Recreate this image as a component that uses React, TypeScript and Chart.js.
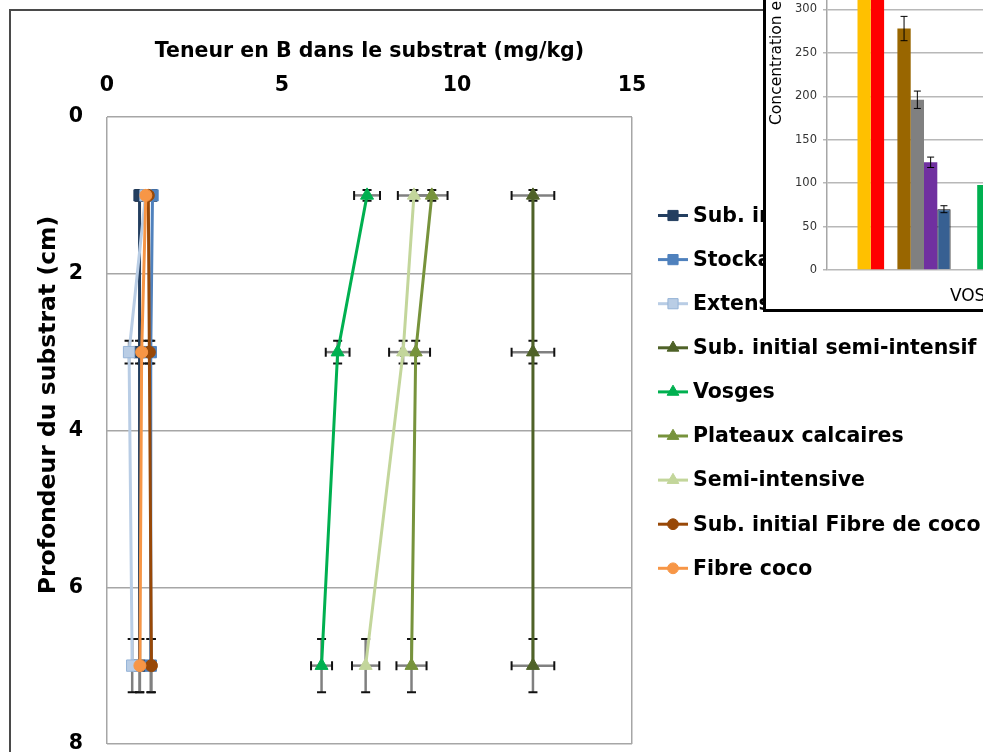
import React, { useEffect, useRef } from "react";
import { Chart, registerables } from "chart.js";
Chart.register(...registerables);

// ---------------- Main chart data ----------------
const depthCm = [1, 3, 7];
const xAxisTitle = "Teneur en B dans le substrat (mg/kg)";
const yAxisTitle = "Profondeur du substrat (cm)";
const seriesLabels = [
  "Sub. initial tourbe",
  "Stockage",
  "Extensive",
  "Sub. initial semi-intensif",
  "Vosges",
  "Plateaux calcaires",
  "Semi-intensive",
  "Sub. initial Fibre de coco",
  "Fibre coco",
];
const subInitialTourbe = [0.93, 0.93, 0.93];
const stockage = [1.3, 1.25, 1.25];
const extensive = [1.1, 0.63, 0.72];
const subInitialSemiIntensif = [12.17, 12.17, 12.17];
const vosges = [7.43, 6.59, 6.13];
const plateauxCalcaires = [9.28, 8.82, 8.7];
const semiIntensive = [8.77, 8.46, 7.39];
const subInitialFibreCoco = [1.18, 1.21, 1.27];
const fibreCoco = [1.11, 0.99, 0.94];

// horizontal error (mg/kg)
const xErrSubInitialTourbe = [0, 0, 0];
const xErrStockage = [0, 0, 0];
const xErrExtensive = [0, 0, 0];
const xErrSubInitialSemiIntensif = [0.61, 0.61, 0.61];
const xErrVosges = [0.37, 0.34, 0.3];
const xErrPlateauxCalcaires = [0.45, 0.41, 0.43];
const xErrSemiIntensive = [0.46, 0.4, 0.39];
const xErrSubInitialFibreCoco = [0, 0, 0];
const xErrFibreCoco = [0, 0, 0];
// vertical error (cm)
const yErrDepth = [0.07, 0.145, 0.34];

// ---------------- Inset chart data ----------------
const insetCategories = ["VOSGES"];
const insetYTitle = "Concentration en B (mg/kg)";
const concYellow = [335];
const concRed = [335];
const concBrown = [278];
const concGray = [196];
const concPurple = [124];
const concBlue = [70];
const concGreen = [98];
const errBrown = [14];
const errGray = [10];
const errPurple = [6];
const errBlue = [4];

const mainValues = [
  subInitialTourbe, stockage, extensive, subInitialSemiIntensif, vosges,
  plateauxCalcaires, semiIntensive, subInitialFibreCoco, fibreCoco,
];
const mainXErr = [
  xErrSubInitialTourbe, xErrStockage, xErrExtensive, xErrSubInitialSemiIntensif, xErrVosges,
  xErrPlateauxCalcaires, xErrSemiIntensive, xErrSubInitialFibreCoco, xErrFibreCoco,
];
const mainStyles = [
  { line: "#243F60", fill: "#243F60", border: "#243F60", point: "rect", r: 8 },
  { line: "#4F81BD", fill: "#4F81BD", border: "#4F81BD", point: "rect", r: 8 },
  { line: "#B9CDE5", fill: "#B9CDE5", border: "#95B3D7", point: "rect", r: 8 },
  { line: "#4F6228", fill: "#4F6228", border: "#4F6228", point: "triangle", r: 7.5 },
  { line: "#00B050", fill: "#00B050", border: "#00B050", point: "triangle", r: 7.5 },
  { line: "#77933C", fill: "#77933C", border: "#77933C", point: "triangle", r: 7.5 },
  { line: "#C3D69B", fill: "#C3D69B", border: "#C3D69B", point: "triangle", r: 7.5 },
  { line: "#984807", fill: "#984807", border: "#984807", point: "circle", r: 6 },
  { line: "#F79646", fill: "#F79646", border: "#F79646", point: "circle", r: 6 },
];

const FONT = '"DejaVu Sans", Verdana, sans-serif';
const INSET_FONT = '"DejaVu Sans", Verdana, sans-serif';

function drawMarker(ctx: CanvasRenderingContext2D, st: any, x: number, y: number) {
  ctx.save();
  ctx.fillStyle = st.fill;
  ctx.strokeStyle = st.border;
  ctx.lineWidth = 1;
  ctx.beginPath();
  if (st.point === "rect") {
    const s = Math.SQRT1_2 * st.r;
    ctx.rect(x - s, y - s, 2 * s, 2 * s);
  } else if (st.point === "triangle") {
    for (let k = 0; k < 3; k++) {
      const a = (k * 2 * Math.PI) / 3;
      const px = x + Math.sin(a) * st.r;
      const py = y - Math.cos(a) * st.r;
      if (k === 0) ctx.moveTo(px, py);
      else ctx.lineTo(px, py);
    }
    ctx.closePath();
  } else {
    ctx.arc(x, y, st.r, 0, Math.PI * 2);
  }
  ctx.fill();
  ctx.stroke();
  ctx.restore();
}

const framePlugin = {
  id: "frame",
  beforeDraw(chart: any) {
    const ctx = chart.ctx;
    ctx.save();
    ctx.fillStyle = "#fff";
    ctx.fillRect(0, 0, chart.width, chart.height);
    ctx.strokeStyle = "#4a4a4a";
    ctx.lineWidth = 2;
    ctx.strokeRect(10, 10, 3000, 3000);
    ctx.restore();
  },
};

function errSeg(ctx: CanvasRenderingContext2D, x1: number, y1: number, x2: number, y2: number, vertical: boolean) {
  ctx.save();
  ctx.strokeStyle = "#808080";
  ctx.lineWidth = 2.5;
  ctx.beginPath();
  ctx.moveTo(x1, y1);
  ctx.lineTo(x2, y2);
  ctx.stroke();
  ctx.strokeStyle = "#111";
  ctx.lineWidth = 2;
  ctx.beginPath();
  const c = 4.5;
  if (vertical) {
    ctx.moveTo(x1 - c, y1); ctx.lineTo(x1 + c, y1);
    ctx.moveTo(x2 - c, y2); ctx.lineTo(x2 + c, y2);
  } else {
    ctx.moveTo(x1, y1 - c); ctx.lineTo(x1, y1 + c);
    ctx.moveTo(x2, y2 - c); ctx.lineTo(x2, y2 + c);
  }
  ctx.stroke();
  ctx.restore();
}

const errorBarPlugin = {
  id: "errorBars",
  beforeDatasetsDraw(chart: any) {
    const ctx = chart.ctx;
    const xs = chart.scales.x;
    const ys = chart.scales.y;
    chart.data.datasets.forEach((ds: any, i: number) => {
      ds.data.forEach((p: any, j: number) => {
        const px = xs.getPixelForValue(p.x);
        const py = ys.getPixelForValue(p.y);
        const ey = yErrDepth[j];
        errSeg(ctx, px, ys.getPixelForValue(p.y - ey), px, ys.getPixelForValue(p.y + ey), true);
        const ex = mainXErr[i][j];
        if (ex > 0) {
          errSeg(ctx, xs.getPixelForValue(p.x - ex), py, xs.getPixelForValue(p.x + ex), py, false);
        }
      });
    });
  },
};

const legendPlugin = {
  id: "customLegend",
  afterDraw(chart: any) {
    const ctx = chart.ctx;
    const rowY0 = 215.5;
    const rowStep = 44.1;
    ctx.save();
    chart.data.datasets.forEach((ds: any, i: number) => {
      const st = mainStyles[i];
      const yy = rowY0 + i * rowStep;
      ctx.strokeStyle = st.line;
      ctx.lineWidth = 3;
      ctx.beginPath();
      ctx.moveTo(658, yy);
      ctx.lineTo(688, yy);
      ctx.stroke();
      drawMarker(ctx, { ...st, r: st.r * 0.9 }, 673, yy);
      ctx.fillStyle = "#000";
      ctx.font = `bold 20.5px ${FONT}`;
      ctx.textBaseline = "middle";
      ctx.textAlign = "left";
      ctx.fillText(ds.label, 693, yy + 1);
    });
    ctx.restore();
  },
};

const yTitlePlugin = {
  id: "yTitle",
  afterDraw(chart: any) {
    const ctx = chart.ctx;
    ctx.save();
    ctx.translate(49, 405);
    ctx.rotate(-Math.PI / 2);
    ctx.font = `bold 23.5px ${FONT}`;
    ctx.fillStyle = "#000";
    ctx.textAlign = "center";
    ctx.textBaseline = "middle";
    ctx.fillText(yAxisTitle, 0, 0);
    ctx.restore();
  },
};

const insetPlugin = {
  id: "insetExtras",
  afterDatasetsDraw(chart: any) {
    const ctx = chart.ctx;
    const ys = chart.scales.y;
    ctx.save();
    chart.data.datasets.forEach((ds: any, i: number) => {
      if (!ds.errors) return;
      const el = chart.getDatasetMeta(i).data[0];
      const v = ds.data[0];
      const e = ds.errors[0];
      const y1 = ys.getPixelForValue(v + e);
      const y2 = ys.getPixelForValue(v - e);
      ctx.strokeStyle = "#000";
      ctx.lineWidth = 1;
      ctx.beginPath();
      ctx.moveTo(el.x, y1); ctx.lineTo(el.x, y2);
      ctx.moveTo(el.x - 3.5, y1); ctx.lineTo(el.x + 3.5, y1);
      ctx.moveTo(el.x - 3.5, y2); ctx.lineTo(el.x + 3.5, y2);
      ctx.stroke();
    });
    ctx.translate(11, 185);
    ctx.rotate(-Math.PI / 2);
    ctx.font = `15.5px ${INSET_FONT}`;
    ctx.fillStyle = "#000";
    ctx.textAlign = "left";
    ctx.textBaseline = "middle";
    ctx.fillText(insetYTitle, 0, 0);
    ctx.restore();
  },
};

export default function App() {
  const mainRef = useRef<HTMLCanvasElement>(null);
  const insetRef = useRef<HTMLCanvasElement>(null);

  useEffect(() => {
    const gray = "#A6A6A6";
    const datasets = mainValues.map((vals, i) => {
      const st = mainStyles[i];
      return {
        label: seriesLabels[i],
        data: depthCm.map((d, j) => ({ x: vals[j], y: d })),
        showLine: true,
        borderColor: st.line,
        backgroundColor: st.fill,
        pointBackgroundColor: st.fill,
        pointBorderColor: st.border,
        pointBorderWidth: 1,
        pointStyle: st.point,
        pointRadius: st.r,
        borderWidth: 3,
        tension: 0,
        order: mainValues.length - i,
      };
    });

    const tickFont = { family: FONT, size: 20.5, weight: "bold" };
    const main = new Chart(mainRef.current as HTMLCanvasElement, {
      type: "scatter",
      data: { datasets } as any,
      options: {
        responsive: false,
        animation: false,
        layout: { padding: { left: 0, top: 0, right: 351, bottom: 56 } },
        plugins: { legend: { display: false }, tooltip: { enabled: false } },
        scales: {
          x: {
            type: "linear",
            position: "top",
            min: 0,
            max: 15,
            ticks: { stepSize: 5, padding: 19.5, color: "#000", font: tickFont },
            grid: {
              drawTicks: false,
              lineWidth: 1.5,
              color: (c: any) => (c.tick && (c.tick.value === 0 || c.tick.value === 15) ? gray : "rgba(0,0,0,0)"),
            },
            border: { display: false },
            title: {
              display: true,
              text: xAxisTitle,
              color: "#000",
              font: { family: FONT, size: 20.5, weight: "bold" },
              padding: { top: 39.5, bottom: 0 },
            },
            afterFit: (s: any) => { s.height = 117; },
          },
          y: {
            type: "linear",
            reverse: true,
            min: 0,
            max: 8,
            ticks: { stepSize: 2, padding: 24, color: "#000", font: tickFont },
            grid: { drawTicks: false, lineWidth: 1.5, color: gray },
            border: { display: false },
            afterFit: (s: any) => { s.width = 107; },
          },
        },
      } as any,
      plugins: [framePlugin, errorBarPlugin, legendPlugin, yTitlePlugin],
    });

    const gap = { label: "", data: [null], backgroundColor: "rgba(0,0,0,0)" };
    const inset = new Chart(insetRef.current as HTMLCanvasElement, {
      type: "bar",
      data: {
        labels: insetCategories,
        datasets: [
          { label: "a", data: concYellow, backgroundColor: "#FFC000" },
          { label: "b", data: concRed, backgroundColor: "#FF0000" },
          gap,
          { label: "c", data: concBrown, backgroundColor: "#996600", errors: errBrown },
          { label: "d", data: concGray, backgroundColor: "#808080", errors: errGray },
          { label: "e", data: concPurple, backgroundColor: "#7030A0", errors: errPurple },
          { label: "f", data: concBlue, backgroundColor: "#376092", borderColor: "#000", borderWidth: 1, errors: errBlue },
          { ...gap },
          { ...gap },
          { label: "g", data: concGreen, backgroundColor: "#00B050" },
        ],
      } as any,
      options: {
        responsive: false,
        animation: false,
        layout: { padding: { left: 0, top: 26, right: 45, bottom: 0 } },
        plugins: { legend: { display: false }, tooltip: { enabled: false } },
        datasets: { bar: { barPercentage: 1, categoryPercentage: 0.6856 } },
        scales: {
          x: {
            ticks: { padding: 16, labelOffset: 61, color: "#000", font: { family: INSET_FONT, size: 17 } },
            grid: { display: false, drawTicks: false },
            border: { display: false },
            afterFit: (s: any) => { s.height = 39; },
          },
          y: {
            min: 0,
            max: 350,
            ticks: { stepSize: 50, padding: 6, color: "#333", font: { family: INSET_FONT, size: 11.5 } },
            grid: { color: "#B8B8B8", lineWidth: 1.5, tickLength: 4 },
            border: { color: "#A6A6A6", width: 1.5 },
            afterFit: (s: any) => { s.width = 61; },
          },
        },
      } as any,
      plugins: [insetPlugin],
    });

    return () => {
      main.destroy();
      inset.destroy();
    };
  }, []);

  return (
    <div style={{ position: "fixed", left: 0, top: 0, width: 983, height: 752, overflow: "hidden", background: "#fff" }}>
      <canvas ref={mainRef} width={983} height={800} style={{ position: "absolute", left: 0, top: 0 }} />
      <div
        style={{
          position: "absolute",
          left: 763,
          top: -63,
          width: 300,
          height: 369,
          border: "3px solid #000",
          background: "#fff",
          overflow: "hidden",
        }}
      >
        <canvas ref={insetRef} width={300} height={369} style={{ position: "absolute", left: 0, top: 0 }} />
      </div>
    </div>
  );
}
